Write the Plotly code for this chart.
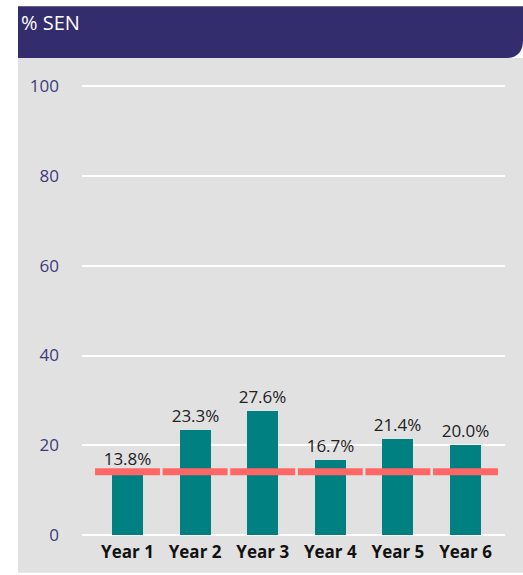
import plotly.graph_objects as go

# Data
years = ["Year 1", "Year 2", "Year 3", "Year 4", "Year 5", "Year 6"]
sen_pct = [13.8, 23.3, 27.6, 16.7, 21.4, 20.0]
benchmark = [14.1, 14.1, 14.1, 14.1, 14.1, 14.1]
y_ticks = [0, 20, 40, 60, 80, 100]

# Figure geometry (pixels)
W, H = 523, 575
ML, MR, MT, MB = 82, 18, 85, 38
PW, PH = W - ML - MR, H - MT - MB


def px(x):
    return (x - ML) / PW


def py(y):
    return (H - MB - y) / PH


TEAL = "#008080"
RED = "#ff6666"
PURPLE = "#332d6e"
PANEL = "#e1e1e1"
FONT = "Open Sans"

xpos = list(range(len(years)))

fig = go.Figure()

fig.add_trace(go.Bar(
    x=xpos,
    y=sen_pct,
    width=0.46,
    marker=dict(color=TEAL, line=dict(width=0)),
    text=[f"{v:.1f}%" for v in sen_pct],
    textposition="outside",
    constraintext="none",
    textfont=dict(family=FONT, size=17, color="#222222"),
    cliponaxis=False,
    hoverinfo="skip",
))

# Benchmark segments, one per category
seg_x, seg_y = [], []
for i, b in zip(xpos, benchmark):
    seg_x += [i - 0.48, i + 0.48, None]
    seg_y += [b, b, None]
fig.add_trace(go.Scatter(
    x=seg_x, y=seg_y, mode="lines",
    line=dict(color=RED, width=7),
    hoverinfo="skip",
))

R = 18  # header corner radius in px
header_path = (
    f"M {px(18)},{py(6)} L {px(523)},{py(6)} "
    f"L {px(523)},{py(58 - R)} "
    f"Q {px(523)},{py(58)} {px(523 - R)},{py(58)} "
    f"L {px(18)},{py(58)} Z"
)

fig.update_layout(
    width=W, height=H,
    margin=dict(l=ML, r=MR, t=MT, b=MB, pad=0),
    paper_bgcolor="white",
    plot_bgcolor="rgba(0,0,0,0)",
    showlegend=False,
    bargap=0,
    font=dict(family=FONT),
    shapes=[
        dict(type="rect", xref="paper", yref="paper",
             x0=px(18), x1=px(523), y0=py(575), y1=py(58),
             fillcolor=PANEL, line=dict(width=0), layer="below"),
        dict(type="path", xref="paper", yref="paper", path=header_path,
             fillcolor=PURPLE, line=dict(width=0), layer="below"),
    ],
    annotations=[
        dict(text="% SEN", xref="paper", yref="paper",
             x=px(19), y=py(22), xanchor="left", yanchor="middle",
             showarrow=False, font=dict(family=FONT, size=20, color="white")),
    ],
    xaxis=dict(
        range=[-0.673, 5.584],
        tickmode="array", tickvals=xpos, ticktext=[f"<b>{y}</b>" for y in years],
        tickfont=dict(family=FONT, size=17, color="#111111"),
        showgrid=False, zeroline=False, showline=False,
        ticks="", ticklabelstandoff=5,
    ),
    yaxis=dict(
        range=[0, 100.3],
        tickmode="array", tickvals=y_ticks,
        tickfont=dict(family=FONT, size=17, color="#3f3a7a"),
        showgrid=True, gridcolor="white", gridwidth=2,
        zeroline=True, zerolinecolor="white", zerolinewidth=2,
        showline=False, ticks="", ticklabelstandoff=22,
    ),
)

fig.write_html("out.html")
